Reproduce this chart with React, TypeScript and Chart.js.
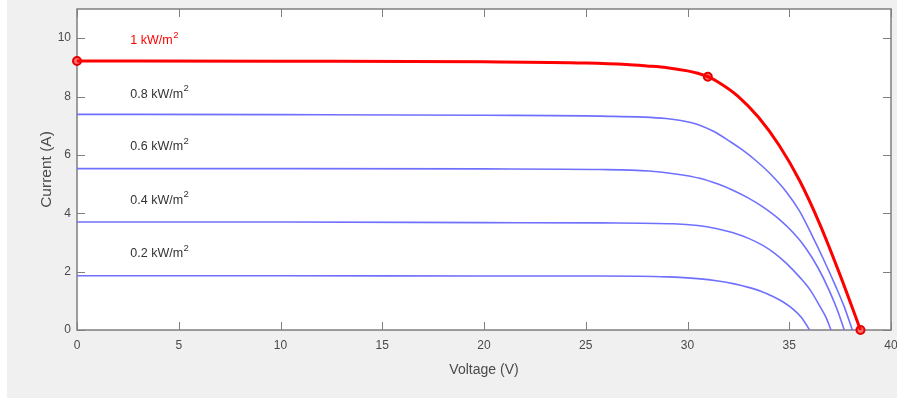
import { useEffect, useRef } from "react";
import { Chart, registerables } from "chart.js";

Chart.register(...registerables);

// Axis ticks
const xTicks = [0, 5, 10, 15, 20, 25, 30, 35, 40];
const yTicks = [0, 2, 4, 6, 8, 10];

// Irradiance labels
const seriesLabels = ["1 kW/m", "0.8 kW/m", "0.6 kW/m", "0.4 kW/m", "0.2 kW/m"];
const labelSup = "2";
const labelAnchorV = [2.62, 2.62, 2.62, 2.62, 2.62];
const labelAnchorI = [9.91, 8.08, 6.27, 4.45, 2.62];

// 1 kW/m2
const v100 = [0, 10, 20, 25, 27, 28, 29, 30, 30.5, 31, 31.5, 32.5, 33.5, 34.5, 35.5, 36.5, 37.5, 38.5];
const i100 = [9.22, 9.21, 9.19, 9.15, 9.1, 9.05, 8.99, 8.88, 8.8, 8.68, 8.5, 8.0, 7.28, 6.33, 5.13, 3.63, 1.88, 0];
// 0.8 kW/m2
const v80 = [0, 10, 20, 25.7, 28.95, 29.6, 30.1, 30.6, 31.3, 32.06, 32.7, 33.37, 34.1, 34.85, 35.5, 36.15, 36.7, 37.3, 37.7, 38.1];
const i80 = [7.39, 7.38, 7.36, 7.33, 7.25, 7.19, 7.12, 7.02, 6.8, 6.47, 6.17, 5.8, 5.33, 4.74, 4.08, 3.2, 2.4, 1.47, 0.8, 0];
// 0.6 kW/m2
const v60 = [0, 10, 20, 25.7, 28.1, 29.5, 30.6, 31.5, 32.2, 33.0, 33.7, 34.5, 35.2, 35.8, 36.4, 37.0, 37.4, 37.7];
const i60 = [5.53, 5.53, 5.52, 5.5, 5.45, 5.34, 5.2, 5.0, 4.8, 4.52, 4.22, 3.8, 3.33, 2.82, 2.15, 1.3, 0.62, 0];
// 0.4 kW/m2
const v40 = [0, 10, 20, 25.7, 29.3, 30.5, 31.4, 32.2, 33.0, 33.7, 34.3, 34.9, 35.5, 36.0, 36.5, 36.8, 37.05];
const i40 = [3.7, 3.7, 3.68, 3.67, 3.64, 3.58, 3.48, 3.34, 3.14, 2.9, 2.62, 2.26, 1.82, 1.4, 0.82, 0.44, 0];
// 0.2 kW/m2
const v20 = [0, 10, 20, 25.7, 29.0, 30.5, 31.5, 32.3, 33.0, 33.6, 34.2, 34.7, 35.2, 35.6, 36.0];
const i20 = [1.86, 1.86, 1.85, 1.85, 1.82, 1.76, 1.68, 1.58, 1.46, 1.33, 1.15, 0.96, 0.71, 0.43, 0];

// Marked points on the 1 kW/m2 curve (Isc, MPP, Voc)
const markerV = [0, 31, 38.5];
const markerI = [9.22, 8.68, 0];

const pts = (v: number[], i: number[]) => v.map((x, k) => ({ x, y: i[k] }));

const AXIS_COLOR = "#7f7f7f";
const TEXT_COLOR = "#4a4a4a";
const BLUE = "#7070ff";
const RED = "#ff0000";

const framePlugin = {
  id: "matlabFrame",
  beforeDraw(chart: any) {
    const { ctx, chartArea: a } = chart;
    ctx.save();
    ctx.fillStyle = "#ffffff";
    ctx.fillRect(a.left, a.top, a.right - a.left, a.bottom - a.top);
    ctx.restore();
  },
  beforeDatasetsDraw(chart: any) {
    const { ctx, chartArea: a, scales } = chart;
    const xs = scales.x;
    const ys = scales.y;
    const tl = 8;
    ctx.save();
    ctx.strokeStyle = AXIS_COLOR;
    ctx.lineWidth = 1.5;
    ctx.strokeRect(a.left, a.top, a.right - a.left, a.bottom - a.top);
    ctx.lineWidth = 1;
    ctx.beginPath();
    xTicks.forEach((v) => {
      const px = Math.round(xs.getPixelForValue(v)) + 0.5;
      ctx.moveTo(px, a.bottom);
      ctx.lineTo(px, a.bottom - tl);
      ctx.moveTo(px, a.top);
      ctx.lineTo(px, a.top + tl);
    });
    yTicks.forEach((v) => {
      const py = Math.round(ys.getPixelForValue(v)) + 0.5;
      ctx.moveTo(a.left, py);
      ctx.lineTo(a.left + tl, py);
      ctx.moveTo(a.right, py);
      ctx.lineTo(a.right - tl, py);
    });
    ctx.stroke();
    ctx.restore();
  },
  afterDraw(chart: any) {
    const { ctx, scales } = chart;
    const xs = scales.x;
    const ys = scales.y;
    ctx.save();
    ctx.textAlign = "left";
    ctx.textBaseline = "middle";
    seriesLabels.forEach((t, k) => {
      const x = xs.getPixelForValue(labelAnchorV[k]);
      const y = ys.getPixelForValue(labelAnchorI[k]);
      ctx.fillStyle = k === 0 ? RED : "#333333";
      ctx.font = "12.5px 'Liberation Sans', Arial, sans-serif";
      ctx.fillText(t, x, y);
      const w = ctx.measureText(t).width;
      ctx.font = "9.5px 'Liberation Sans', Arial, sans-serif";
      ctx.fillText(labelSup, x + w + 0.5, y - 5.5);
    });
    ctx.restore();
  },
};

export default function App() {
  const ref = useRef<HTMLCanvasElement | null>(null);

  useEffect(() => {
    document.body.style.margin = "0";
    const canvas = ref.current;
    if (!canvas) return;
    Chart.defaults.font.family = "'Liberation Sans', Arial, sans-serif";

    const lineDs = (label: string, v: number[], i: number[], color: string, width: number) => ({
      type: "line" as const,
      label,
      data: pts(v, i),
      borderColor: color,
      backgroundColor: color,
      borderWidth: width,
      pointRadius: 0,
      cubicInterpolationMode: "monotone" as const,
      fill: false,
    });

    const chart = new Chart(canvas, {
      type: "line",
      data: {
        datasets: [
          lineDs("0.2", v20, i20, BLUE, 1.6),
          lineDs("0.4", v40, i40, BLUE, 1.6),
          lineDs("0.6", v60, i60, BLUE, 1.6),
          lineDs("0.8", v80, i80, BLUE, 1.6),
          lineDs("1", v100, i100, RED, 3),
          {
            type: "line" as const,
            label: "markers",
            data: pts(markerV, markerI),
            showLine: false,
            pointRadius: 4,
            pointBorderWidth: 2,
            pointBorderColor: "#e00000",
            pointBackgroundColor: "#ff6a6a",
            clip: false as any,
          } as any,
        ],
      },
      options: {
        animation: false,
        responsive: false,
        devicePixelRatio: 1,
        layout: { padding: { top: 9, right: 4.5, left: 0, bottom: 0 } },
        plugins: {
          legend: { display: false },
          tooltip: { enabled: false },
        },
        scales: {
          x: {
            type: "linear",
            min: 0,
            max: 40,
            afterBuildTicks: (s: any) => {
              s.ticks = xTicks.map((value) => ({ value }));
            },
            afterFit: (s: any) => {
              s.height = 68;
              s.paddingLeft = 0;
              s.paddingRight = 0;
            },
            grid: { display: false, drawTicks: false },
            border: { display: false },
            ticks: {
              padding: 8,
              color: TEXT_COLOR,
              font: { size: 12 },
              maxRotation: 0,
              autoSkip: false,
            },
            title: {
              display: true,
              text: "Voltage (V)",
              color: TEXT_COLOR,
              font: { size: 14 },
              padding: { top: 0, bottom: 19.6 },
            },
          },
          y: {
            type: "linear",
            min: 0,
            max: 11,
            afterBuildTicks: (s: any) => {
              s.ticks = yTicks.map((value) => ({ value }));
            },
            afterFit: (s: any) => {
              s.width = 70;
              s.paddingTop = 0;
              s.paddingBottom = 0;
            },
            grid: { display: false, drawTicks: false },
            border: { display: false },
            ticks: {
              padding: 6,
              color: TEXT_COLOR,
              font: { size: 12 },
              autoSkip: false,
            },
            title: {
              display: true,
              text: "Current (A)",
              color: TEXT_COLOR,
              font: { size: 15.5 },
              padding: { top: 30.4, bottom: 0 },
            },
          },
        },
      },
      plugins: [framePlugin],
    });

    return () => chart.destroy();
  }, []);

  return (
    <div style={{ position: "relative", width: 897, height: 399, background: "#ffffff" }}>
      <canvas
        ref={ref}
        width={890}
        height={398}
        style={{ position: "absolute", left: 7, top: 0, width: 890, height: 398, background: "#f0f0f0" }}
      />
    </div>
  );
}
